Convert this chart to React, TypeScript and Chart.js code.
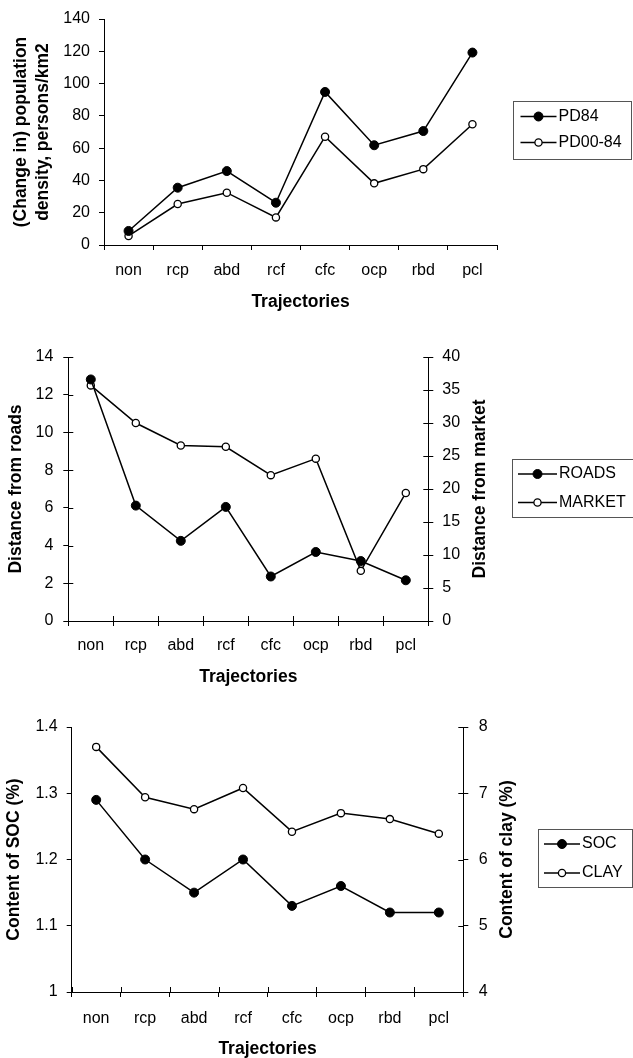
import React, { useEffect, useRef } from 'react';
import { Chart, registerables } from 'chart.js';

Chart.register(...registerables);

// ---------- data ----------
const categories = ['non', 'rcp', 'abd', 'rcf', 'cfc', 'ocp', 'rbd', 'pcl'];

const pd84 = [8.7, 35.5, 45.8, 26.2, 94.8, 61.8, 70.6, 119.2];
const pd0084 = [5.6, 25.4, 32.4, 17.1, 67.1, 38.2, 47.0, 74.8];

const roads = [12.81, 6.12, 4.25, 6.05, 2.36, 3.66, 3.18, 2.16];
const market = [35.7, 30.0, 26.6, 26.4, 22.1, 24.6, 7.6, 19.4];

const soc = [1.29, 1.2, 1.15, 1.2, 1.13, 1.16, 1.12, 1.12];
const clay = [7.7, 6.94, 6.76, 7.08, 6.42, 6.7, 6.61, 6.39];

const pdTicks = ['0', '20', '40', '60', '80', '100', '120', '140'];
const roadsTicks = ['0', '2', '4', '6', '8', '10', '12', '14'];
const marketTicks = ['0', '5', '10', '15', '20', '25', '30', '35', '40'];
const socTicks = ['1', '1.1', '1.2', '1.3', '1.4'];
const clayTicks = ['4', '5', '6', '7', '8'];

// ---------- styles ----------
const FONT = "'Liberation Sans', Arial, Helvetica, sans-serif";
const tickFont = { family: FONT, size: 16 };
const TITLE_SIZE = 17.5;
const titleFont = { family: FONT, size: TITLE_SIZE, weight: 'bold' as const, lineHeight: 1.2 };
const legendFont = `16px ${FONT}`;

function filledSet(label: string, data: number[], yAxisID = 'y') {
  return {
    label, data, yAxisID,
    borderColor: '#000', borderWidth: 1.5,
    pointRadius: 4.5, pointHoverRadius: 4.5,
    pointBackgroundColor: '#000', pointBorderColor: '#000', pointBorderWidth: 1,
    tension: 0, fill: false,
  };
}
function openSet(label: string, data: number[], yAxisID = 'y') {
  return {
    label, data, yAxisID,
    borderColor: '#000', borderWidth: 1.5,
    pointRadius: 3.6, pointHoverRadius: 3.6,
    pointBackgroundColor: '#fff', pointBorderColor: '#000', pointBorderWidth: 1.3,
    tension: 0, fill: false,
  };
}

function xAxis(height: number, pad: number, titlePadBottom: number) {
  return {
    type: 'category', offset: true,
    grid: { offset: true, drawOnChartArea: false, tickLength: 5, color: '#000', lineWidth: 1 },
    border: { color: '#000', width: 1 },
    ticks: { font: tickFont, color: '#000', padding: pad, maxRotation: 0, autoSkip: false },
    title: {
      display: true, text: 'Trajectories', color: '#000',
      font: { ...titleFont, lineHeight: 1 },
      padding: { top: 0, bottom: titlePadBottom },
    },
    afterFit: (s: any) => { s.height = height; },
  };
}

function yAxis(
  position: 'left' | 'right', width: number, min: number, max: number, step: number,
  labels: string[], pad: number, title?: string | string[], titlePadTop = 0, titleLH = 1.2,
) {
  return {
    type: 'linear', position, min, max,
    grid: { drawOnChartArea: false, tickLength: 5, color: '#000', lineWidth: 1 },
    border: { color: '#000', width: 1 },
    ticks: {
      stepSize: step, font: tickFont, color: '#000', padding: pad,
      callback: (_v: any, i: number) => labels[i],
    },
    title: {
      display: !!title, text: title || '', color: '#000',
      font: { ...titleFont, lineHeight: titleLH },
      padding: { top: titlePadTop, bottom: 0 },
    },
    afterFit: (s: any) => { s.width = width; },
  };
}

// ---------- plugins ----------
const innerTicks = {
  id: 'innerTicks',
  afterDraw(chart: any, _a: any, opts: any) {
    const len = (opts && opts.len) || {};
    const ctx = chart.ctx;
    const a = chart.chartArea;
    ctx.save();
    ctx.strokeStyle = '#000';
    ctx.lineWidth = 1;
    Object.keys(len).forEach((id) => {
      const sc = chart.scales[id];
      if (!sc) return;
      const L = len[id];
      ctx.beginPath();
      if (sc.isHorizontal()) {
        const n = sc.ticks.length;
        for (let i = 0; i <= n; i++) {
          const x = Math.round(a.left + ((a.right - a.left) * i) / n) + 0.5;
          ctx.moveTo(x, a.bottom);
          ctx.lineTo(x, a.bottom - L);
        }
      } else {
        const left = sc.position === 'left';
        const x0 = left ? sc.right : sc.left;
        const dir = left ? 1 : -1;
        sc.ticks.forEach((t: any) => {
          const y = Math.round(sc.getPixelForValue(t.value)) + 0.5;
          ctx.moveTo(x0, y);
          ctx.lineTo(x0 + dir * L, y);
        });
      }
      ctx.stroke();
    });
    ctx.restore();
  },
};

const boxLegend = {
  id: 'boxLegend',
  afterDraw(chart: any, _a: any, o: any) {
    if (!o || o.left === undefined) return;
    const ctx = chart.ctx;
    ctx.save();
    ctx.strokeStyle = '#555';
    ctx.lineWidth = 1;
    ctx.strokeRect(Math.round(o.left) + 0.5, Math.round(o.top) + 0.5, o.width, o.height);
    chart.data.datasets.forEach((ds: any, i: number) => {
      const y = o.top + o.firstRow + i * o.rowGap;
      const x0 = o.left + o.lineX0;
      ctx.beginPath();
      ctx.moveTo(x0, y);
      ctx.lineTo(x0 + o.lineLen, y);
      ctx.strokeStyle = ds.borderColor;
      ctx.lineWidth = ds.borderWidth;
      ctx.stroke();
      ctx.beginPath();
      ctx.arc(x0 + o.lineLen / 2, y, ds.pointRadius, 0, Math.PI * 2);
      ctx.fillStyle = ds.pointBackgroundColor;
      ctx.fill();
      ctx.lineWidth = ds.pointBorderWidth;
      ctx.strokeStyle = ds.pointBorderColor;
      ctx.stroke();
      ctx.fillStyle = '#000';
      ctx.font = legendFont;
      ctx.textAlign = 'left';
      ctx.textBaseline = 'middle';
      ctx.fillText(ds.label, x0 + o.lineLen + 2, y);
    });
    ctx.restore();
  },
};

const rightTitle = {
  id: 'rightTitle',
  afterDraw(chart: any, _a: any, o: any) {
    if (!o || !o.text) return;
    const ctx = chart.ctx;
    const a = chart.chartArea;
    ctx.save();
    ctx.translate(o.x, (a.top + a.bottom) / 2);
    ctx.rotate(-Math.PI / 2);
    ctx.fillStyle = '#000';
    ctx.font = `bold ${TITLE_SIZE}px ${FONT}`;
    ctx.textAlign = 'center';
    ctx.textBaseline = 'middle';
    ctx.fillText(o.text, 0, 0);
    ctx.restore();
  },
};

function baseOptions(padding: any, scales: any, plugins: any) {
  return {
    responsive: false, animation: false, devicePixelRatio: 1, events: [],
    layout: { padding },
    scales,
    plugins: { legend: { display: false }, tooltip: { enabled: false }, ...plugins },
  };
}

// ---------- configs ----------
const config1 = () => ({
  type: 'line',
  data: { labels: categories, datasets: [filledSet('PD84', pd84), openSet('PD00-84', pd0084)] },
  options: baseOptions(
    { top: 19, right: 136, left: 0, bottom: 0 },
    {
      x: xAxis(67, 11, 1.5),
      y: yAxis('left', 104, 0, 140, 20, pdTicks, 9,
        ['(Change in) population', 'density, persons/km2'], 10, 1.27),
    },
    {
      innerTicks: { len: {} },
      boxLegend: { left: 513, top: 101, width: 118, height: 58, firstRow: 15.5, rowGap: 26, lineX0: 7.5, lineLen: 36 },
    },
  ),
  plugins: [innerTicks, boxLegend, rightTitle],
});

const config2 = () => ({
  type: 'line',
  data: {
    labels: categories,
    datasets: [filledSet('ROADS', roads, 'y'), openSet('MARKET', market, 'y1')],
  },
  options: baseOptions(
    { top: 45, right: 142.7, left: 0, bottom: 0 },
    {
      x: xAxis(69, 9.5, 4.5),
      y: yAxis('left', 68.3, 0, 14, 2, roadsTicks, 10, 'Distance from roads', 6),
      y1: yAxis('right', 62, 0, 40, 5, marketTicks, 9),
    },
    {
      innerTicks: { len: { x: 5, y: 5, y1: 5 } },
      boxLegend: { left: 512, top: 147, width: 130, height: 58, firstRow: 15, rowGap: 28.5, lineX0: 6, lineLen: 39 },
      rightTitle: { text: 'Distance from market', x: 480 },
    },
  ),
  plugins: [innerTicks, boxLegend, rightTitle],
});

const config3 = () => ({
  type: 'line',
  data: {
    labels: categories,
    datasets: [filledSet('SOC', soc, 'y'), openSet('CLAY', clay, 'y1')],
  },
  options: baseOptions(
    { top: 37, right: 116, left: 0, bottom: 0 },
    {
      x: xAxis(66, 11.5, 0),
      y: yAxis('left', 71.7, 1, 1.4, 0.1, socTicks, 9, 'Content of SOC (%)', 4),
      y1: yAxis('right', 53.7, 4, 8, 1, clayTicks, 10.5),
    },
    {
      innerTicks: { len: { x: 5, y1: 5 } },
      boxLegend: { left: 538, top: 139, width: 94, height: 58, firstRow: 15, rowGap: 29, lineX0: 6, lineLen: 36 },
      rightTitle: { text: 'Content of clay (%)', x: 507 },
    },
  ),
  plugins: [innerTicks, boxLegend, rightTitle],
});

function ChartCanvas({ top, height, make }: { top: number; height: number; make: () => any }) {
  const ref = useRef<HTMLCanvasElement | null>(null);
  useEffect(() => {
    if (!ref.current) return;
    const chart = new Chart(ref.current, make());
    return () => chart.destroy();
  }, []);
  return (
    <canvas
      ref={ref}
      width={633}
      height={height}
      style={{ position: 'absolute', left: 0, top, width: 633, height, display: 'block' }}
    />
  );
}

export default function App() {
  return (
    <div style={{ position: 'absolute', left: 0, top: 0, width: 633, height: 1058, background: '#fff', overflow: 'hidden' }}>
      <ChartCanvas top={0} height={312} make={config1} />
      <ChartCanvas top={312} height={378} make={config2} />
      <ChartCanvas top={690} height={368} make={config3} />
    </div>
  );
}
